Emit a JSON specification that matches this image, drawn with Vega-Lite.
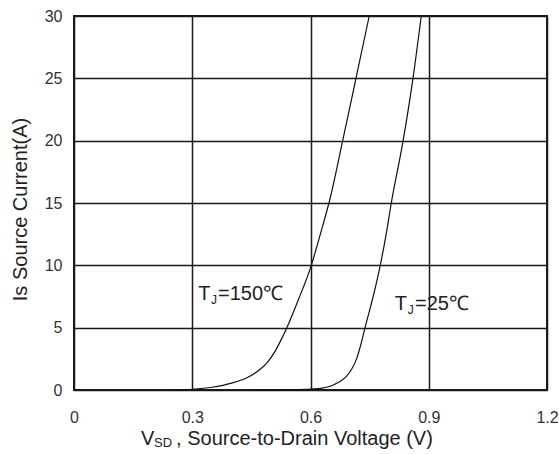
{
  "$schema": "https://vega.github.io/schema/vega-lite/v6.json",
  "width": 473,
  "height": 374,
  "autosize": "none",
  "padding": {"left": 74, "top": 16, "right": 12, "bottom": 64},
  "background": "white",
  "config": {
    "font": "Liberation Sans",
    "view": {"stroke": "#1a1a1a", "strokeWidth": 2}
  },
  "datasets": {
    "curves": [
      {"tj": "150", "vsd": 0.25, "is": 0.0},
      {"tj": "150", "vsd": 0.30, "is": 0.06},
      {"tj": "150", "vsd": 0.35, "is": 0.22},
      {"tj": "150", "vsd": 0.40, "is": 0.55},
      {"tj": "150", "vsd": 0.44, "is": 1.0},
      {"tj": "150", "vsd": 0.47, "is": 1.6},
      {"tj": "150", "vsd": 0.49, "is": 2.2},
      {"tj": "150", "vsd": 0.51, "is": 3.1},
      {"tj": "150", "vsd": 0.525, "is": 4.0},
      {"tj": "150", "vsd": 0.54, "is": 5.0},
      {"tj": "150", "vsd": 0.57, "is": 7.3},
      {"tj": "150", "vsd": 0.60, "is": 9.8},
      {"tj": "150", "vsd": 0.625, "is": 12.5},
      {"tj": "150", "vsd": 0.65, "is": 15.4},
      {"tj": "150", "vsd": 0.683, "is": 20.2},
      {"tj": "150", "vsd": 0.716, "is": 25.1},
      {"tj": "150", "vsd": 0.749, "is": 30.0},
      {"tj": "25", "vsd": 0.45, "is": 0.0},
      {"tj": "25", "vsd": 0.55, "is": 0.03},
      {"tj": "25", "vsd": 0.60, "is": 0.08},
      {"tj": "25", "vsd": 0.63, "is": 0.15},
      {"tj": "25", "vsd": 0.65, "is": 0.3},
      {"tj": "25", "vsd": 0.67, "is": 0.6},
      {"tj": "25", "vsd": 0.69, "is": 1.05},
      {"tj": "25", "vsd": 0.705, "is": 1.7},
      {"tj": "25", "vsd": 0.718, "is": 2.6},
      {"tj": "25", "vsd": 0.729, "is": 3.8},
      {"tj": "25", "vsd": 0.74, "is": 5.2},
      {"tj": "25", "vsd": 0.759, "is": 7.5},
      {"tj": "25", "vsd": 0.777, "is": 10.0},
      {"tj": "25", "vsd": 0.792, "is": 12.5},
      {"tj": "25", "vsd": 0.805, "is": 15.0},
      {"tj": "25", "vsd": 0.835, "is": 20.0},
      {"tj": "25", "vsd": 0.860, "is": 25.0},
      {"tj": "25", "vsd": 0.881, "is": 30.0}
    ],
    "mainText": [
      {"vsd": 0.315, "is": 7.2, "t": "T"},
      {"vsd": 0.3655, "is": 7.2, "t": "=150℃"},
      {"vsd": 0.814, "is": 6.42, "t": "T"},
      {"vsd": 0.865, "is": 6.42, "t": "=25℃"}
    ],
    "subText": [
      {"vsd": 0.3478, "is": 6.9, "t": "J"},
      {"vsd": 0.847, "is": 6.12, "t": "J"}
    ],
    "titleMain": [
      {"vsd": 0.170, "is": -4.41, "t": "V"},
      {"vsd": 0.259, "is": -4.41, "t": ", Source-to-Drain Voltage (V)"}
    ],
    "titleSub": [
      {"vsd": 0.203, "is": -4.6, "t": "SD"}
    ]
  },
  "layer": [
    {
      "data": {"name": "curves"},
      "mark": {"type": "line", "color": "#111111", "strokeWidth": 1.2, "interpolate": "monotone"},
      "encoding": {
        "x": {
          "field": "vsd", "type": "quantitative",
          "scale": {"domain": [0, 1.2], "nice": false},
          "axis": {
            "values": [0, 0.3, 0.6, 0.9, 1.2],
            "labelExpr": "datum.value == 0 ? '0' : format(datum.value, '.1f')",
            "title": null,
            "domain": false, "ticks": false,
            "grid": true, "gridColor": "#1a1a1a", "gridWidth": 1.5,
            "labelFont": "Liberation Sans", "labelFontSize": 16, "labelColor": "#333333",
            "labelPadding": 19, "labelFlush": false
          }
        },
        "y": {
          "field": "is", "type": "quantitative",
          "scale": {"domain": [0, 30], "nice": false},
          "axis": {
            "values": [0, 5, 10, 15, 20, 25, 30],
            "title": "Is Source Current(A)",
            "titleFont": "Liberation Sans", "titleFontSize": 20, "titleFontWeight": "normal",
            "titleColor": "#222222", "titlePadding": 14, "titleY": 193,
            "domain": false, "ticks": false,
            "grid": true, "gridColor": "#1a1a1a", "gridWidth": 1.5,
            "labelFont": "Liberation Sans", "labelFontSize": 16, "labelColor": "#333333",
            "labelPadding": 12
          }
        },
        "detail": {"field": "tj"}
      }
    },
    {
      "data": {"name": "mainText"},
      "mark": {"type": "text", "align": "left", "baseline": "alphabetic", "fontSize": 20, "color": "#222222"},
      "encoding": {
        "x": {"field": "vsd", "type": "quantitative"},
        "y": {"field": "is", "type": "quantitative"},
        "text": {"field": "t"}
      }
    },
    {
      "data": {"name": "subText"},
      "mark": {"type": "text", "align": "left", "baseline": "alphabetic", "fontSize": 12, "color": "#222222"},
      "encoding": {
        "x": {"field": "vsd", "type": "quantitative"},
        "y": {"field": "is", "type": "quantitative"},
        "text": {"field": "t"}
      }
    },
    {
      "data": {"name": "titleMain"},
      "mark": {"type": "text", "align": "left", "baseline": "alphabetic", "fontSize": 20, "color": "#222222", "clip": false},
      "encoding": {
        "x": {"field": "vsd", "type": "quantitative"},
        "y": {"field": "is", "type": "quantitative"},
        "text": {"field": "t"}
      }
    },
    {
      "data": {"name": "titleSub"},
      "mark": {"type": "text", "align": "left", "baseline": "alphabetic", "fontSize": 13, "color": "#222222", "clip": false},
      "encoding": {
        "x": {"field": "vsd", "type": "quantitative"},
        "y": {"field": "is", "type": "quantitative"},
        "text": {"field": "t"}
      }
    }
  ]
}
